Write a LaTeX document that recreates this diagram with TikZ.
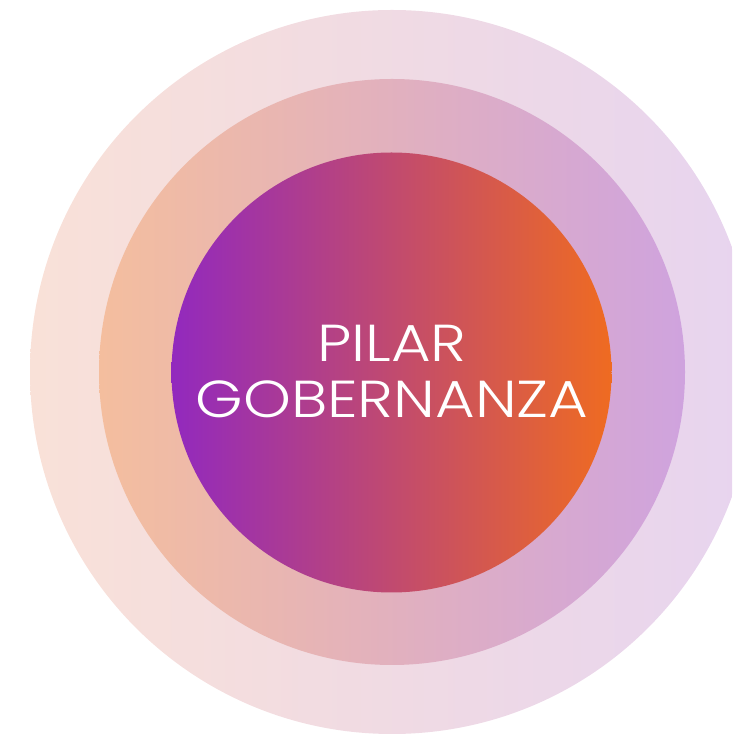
\documentclass[tikz,border=0pt]{standalone}
\usepackage{fontspec}
\newfontfamily\pilarfont{Poppins Light}[FakeStretch=1.17]
\definecolor{outerL}{HTML}{F9E1D8}
\definecolor{outerR}{HTML}{E7D4EF}
\definecolor{midL}{HTML}{F4BE9E}
\definecolor{midR}{HTML}{CFA3DE}
\definecolor{innL}{HTML}{9229BE}
\definecolor{innR}{HTML}{EF6B21}
\tikzset{label text/.style={text=white, inner sep=0pt, font=\pilarfont\fontsize{52}{56}\selectfont}}
\newcommand\gradcircle[5]{%
  \begin{scope}
    \clip (#1,#2) circle[radius=#3];
    \shade[left color=#4, right color=#5] (#1-#3,#2-#3) rectangle (#1+#3,#2+#3);
  \end{scope}}
\begin{document}
\begin{tikzpicture}[x=1pt,y=1pt]
\useasboundingbox (0,0) rectangle (732,736);
\clip (0,0) rectangle (732,736);
\gradcircle{392}{364}{362}{outerL}{outerR}
\gradcircle{392}{364}{293}{midL}{midR}
\gradcircle{391.5}{363.5}{220}{innL}{innR}
\node[label text, anchor=base] (l1) at (392,374) {PILAR};
\node[label text, anchor=base] (l2) at (392,318) {GOBERNANZA};
\end{tikzpicture}
\end{document}
